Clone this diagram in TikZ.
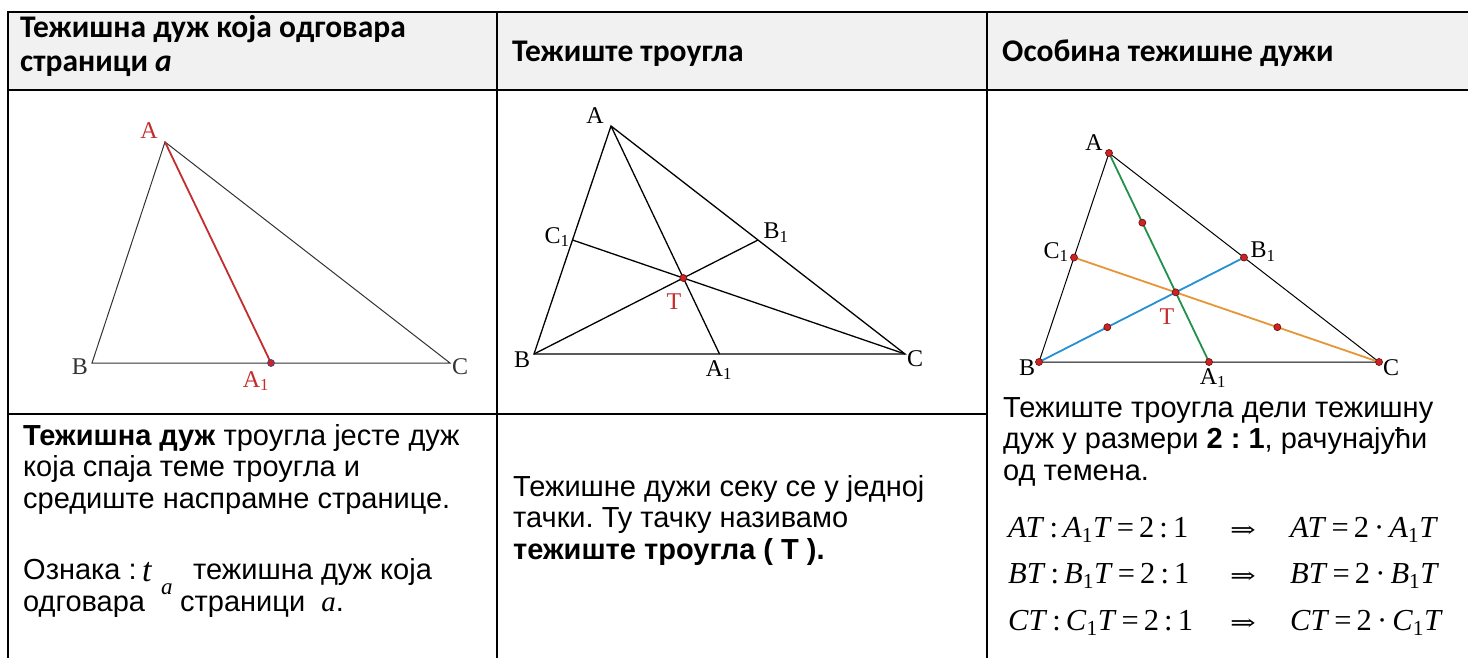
\documentclass[tikz,border=0pt]{standalone}
\usepackage{graphicx}
\usepackage{fontspec}
\setmainfont{Liberation Sans}
\newfontfamily\headfam{Carlito}
\newfontfamily\timesfam{Liberation Serif}
\newfontfamily\arrowfam{DejaVu Serif}
\usetikzlibrary{calc}
\frenchspacing

\definecolor{headgray}{RGB}{241,241,241}
\definecolor{ptred}{RGB}{205,35,35}
\definecolor{ptedge}{RGB}{110,20,20}
\definecolor{ptblue}{RGB}{60,70,150}
\definecolor{medred}{RGB}{195,45,45}
\definecolor{medgreen}{RGB}{35,145,75}
\definecolor{medblue}{RGB}{35,145,210}
\definecolor{medorange}{RGB}{230,150,55}

\begin{document}
\begin{tikzpicture}[x=1pt,y=-1pt,
  head/.style={anchor=base west,align=left,inner sep=0pt,
    font=\headfam\bfseries\fontsize{31.5}{34}\selectfont},
  body/.style={anchor=base west,align=left,inner sep=0pt,
    font=\fontsize{29}{31.5}\selectfont},
  eq/.style={anchor=base west,inner sep=0pt,
    font=\timesfam\fontsize{30.5}{32}\selectfont},
  lbl/.style={inner sep=0pt,font=\timesfam\fontsize{24}{26}\selectfont},
  rule/.style={line width=2pt},
  side/.style={line width=1pt},
  median/.style={line width=1.8pt,line cap=round},
  dot/.style={circle,fill=ptred,draw=ptedge,line width=.7pt,
    inner sep=0pt,minimum size=7pt}]

  \useasboundingbox (0,0) rectangle (1468,658);
  \fill[white] (0,0) rectangle (1468,658);

  % table
  \fill[headgray] (8,12) rectangle (1468,90);
  \draw[rule] (8,658) |- (1468,12);
  \draw[rule] (8,90) -- (1468,90) (8,414) -- (987,414);
  \draw[rule] (497,12) -- (497,658) (987,12) -- (987,658);

  \node[head] (h1) at (20,72) {Тежишна дуж која одговара\\страници \textit{a}};
  \node[head] (h2) at (512,62) {Тежиште троугла};
  \node[head] (h3) at (1002,62) {Особина тежишне дужи};

  % left triangle
  \coordinate (lA) at (165,142);
  \coordinate (lB) at (92,363);
  \coordinate (lC) at (450,363);
  \coordinate (lA1) at ($(lB)!.5!(lC)$);
  \draw[side,black!80] (lA) -- (lB) -- (lC) -- cycle;
  \draw[median,medred] (lA) -- (lA1);
  \node[dot,draw=ptblue] (lA1d) at (lA1) {};
  \node[lbl,medred] (lAl) at (149,131) {A};
  \node[lbl,black!80] (lBl) at (80,367) {B};
  \node[lbl,black!80] (lCl) at (460,367) {C};
  \node[lbl,medred] (lA1l) at (256,381) {A\textsubscript{1}};

  % middle triangle
  \coordinate (mA) at (611,126);
  \coordinate (mB) at (534,354);
  \coordinate (mC) at (905,354);
  \coordinate (mA1) at ($(mB)!.5!(mC)$);
  \coordinate (mB1) at ($(mA)!.5!(mC)$);
  \coordinate (mC1) at ($(mA)!.5!(mB)$);
  \coordinate (mT) at ($(mA)!2/3!(mA1)$);
  \draw[side,line width=1.3pt] (mA) -- (mB) -- (mC) -- cycle;
  \draw[side,line width=1.3pt] (mA) -- (mA1) (mB) -- (mB1) (mC) -- (mC1);
  \node[dot] (mTd) at (mT) {};
  \node[lbl] (mAl) at (595,116) {A};
  \node[lbl] (mBl) at (522,360) {B};
  \node[lbl] (mCl) at (915,359) {C};
  \node[lbl] (mA1l) at (719,370) {A\textsubscript{1}};
  \node[lbl] (mB1l) at (776,233) {B\textsubscript{1}};
  \node[lbl] (mC1l) at (557,237) {C\textsubscript{1}};
  \node[lbl,medred] (mTl) at (674,302) {T};

  % right triangle
  \coordinate (rA) at (1109,153);
  \coordinate (rB) at (1039,362);
  \coordinate (rC) at (1379,362);
  \coordinate (rA1) at ($(rB)!.5!(rC)$);
  \coordinate (rB1) at ($(rA)!.5!(rC)$);
  \coordinate (rC1) at ($(rA)!.5!(rB)$);
  \coordinate (rT) at ($(rA)!2/3!(rA1)$);
  \draw[side] (rA) -- (rB) -- (rC) -- cycle;
  \draw[median,medgreen] (rA) -- (rA1);
  \draw[median,medblue] (rB) -- (rB1);
  \draw[median,medorange] (rC) -- (rC1);
  \foreach \p in {A,B,C,A1,B1,C1,T}
    \node[dot] (r\p d) at (r\p) {};
  \foreach \p in {A,B,C}
    \node[dot] (rm\p) at ($(r\p)!.5!(rT)$) {};
  \node[lbl] (rAl) at (1094,143) {A};
  \node[lbl] (rBl) at (1027,368) {B};
  \node[lbl] (rCl) at (1391,368) {C};
  \node[lbl] (rA1l) at (1213,378) {A\textsubscript{1}};
  \node[lbl] (rB1l) at (1263,252) {B\textsubscript{1}};
  \node[lbl] (rC1l) at (1056,252) {C\textsubscript{1}};
  \node[lbl,medred] (rTl) at (1167,317) {T};

  % texts
  \node[body] (defn) at (23,508) {\textbf{Тежишна дуж} троугла јесте дуж\\која спаја теме троугла и\\средиште наспрамне странице.};
  \node[body] (ozn) at (23,579) {Ознака :};
  \node[anchor=base west,inner sep=0pt,font=\timesfam\itshape\fontsize{34}{34}\selectfont] (tsym) at (142,581) {t};
  \node[anchor=base west,inner sep=0pt,font=\timesfam\itshape\fontsize{23}{24}\selectfont] (asym) at (161,594) {a};
  \node[body] (oznrest) at (193,579) {тежишна дуж која};
  \node[body] (odg) at (23,611) {одговара};
  \node[body] (str) at (180,611) {страници\ \ {\timesfam\itshape a}.};

  \node[body] (presek) at (513,559) {Тежишне дужи секу се у једној\\тачки. Ту тачку називамо\\\textbf{тежиште троугла ( Т ).}};

  \node[body] (odnos) at (1003,480) {Тежиште троугла дели тежишну\\дуж у размери \textbf{2 : 1}, рачунајући\\од темена.};
  \foreach \v/\y in {A/537,B/583,C/630} {
    \node[eq] (eqL\v) at (1008,\y) {\textit{\v T}\,:\,\textit{\v}\textsubscript{1}\textit{T}\,=\,2\,:\,1};
    \node[eq] (eqI\v) at (1230,\y) {{\arrowfam\fontsize{22}{24}\selectfont\scalebox{1.4}[1]{⇒}}};
    \node[eq] (eqR\v) at (1290,\y) {\textit{\v T}\,=\,2\,·\,\textit{\v}\textsubscript{1}\textit{T}};
  }
\end{tikzpicture}
\end{document}
